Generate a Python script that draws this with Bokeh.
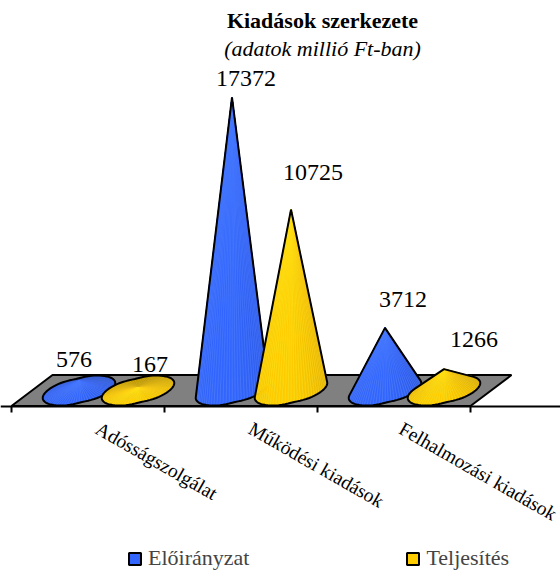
import numpy as np
from bokeh.plotting import figure
from bokeh.embed import file_html
from bokeh.resources import INLINE
from bokeh.models import Range1d, LinearAxis, FixedTicker, Label, Legend, LegendItem
from bokeh.core.properties import value

categories = ["Adósságszolgálat", "Működési kiadások", "Felhalmozási kiadások"]
series_names = ["Előirányzat", "Teljesítés"]
eloiranyzat = [576, 17372, 3712]
teljesites = [167, 10725, 1266]
title_main = "Kiadások szerkezete"
title_sub = "(adatok millió Ft-ban)"

# label offsets from the cone tip, in px (right, up)
label_off = {
    (0, 0): (-5, 21), (0, 1): (12, 23),
    (1, 0): (14, 19), (1, 1): (22, 37),
    (2, 0): (18, 28), (2, 1): (30, 30),
}

W, H = 560, 571
PX_PER_SLOT = 153.0
PX_PER_VAL = 0.01687
LEFT_PX, BASE_PX = 11.0, 390.0

def sx(px):
    return px / PX_PER_SLOT
def sy(px):
    return px / PX_PER_VAL

p = figure(width=W, height=H, output_backend="svg", toolbar_location=None,
           x_axis_type=None, y_axis_type=None,
           x_range=Range1d(sx(0 - LEFT_PX), sx(W - LEFT_PX)),
           y_range=Range1d(sy(BASE_PX - H), sy(BASE_PX)),
           min_border=0, min_border_left=0, min_border_right=0,
           min_border_top=0, min_border_bottom=0, outline_line_color=None,
           background_fill_color="white", border_fill_color="white")
p.grid.visible = False

FRONT, BACK, SHEAR = -15.5, 15.5, 41.0
n = len(categories)
floor_x = [0, n, n + sx(SHEAR), sx(SHEAR)]
floor_y = [sy(FRONT), sy(FRONT), sy(BACK), sy(BACK)]
p.patch(floor_x, floor_y, fill_color="#808080", line_color="black", line_width=2)

SERIES_OFF = [-29.5, 29.5]
COLORS = [np.array([51, 102, 255.0]), np.array([255, 204, 0.0])]
N = 72
ts = np.linspace(0, 2 * np.pi, N, endpoint=False)
R = 31.5
K = 15.0
# base: a sheared circle lying on the floor, with two shallow dents
rad = 1 - 0.06 * np.cos(ts - np.radians(125)) ** 24
ox = rad * (R * np.cos(ts) + 18.0 * np.sin(ts))
oy = rad * K * np.sin(ts)

handles = []
for c in range(n):
    for s, vals in enumerate([eloiranyzat, teljesites]):
        v = vals[c]
        cx = c + 0.5 + sx(SHEAR / 2) + sx(SERIES_OFF[s])
        bx, by = cx + sx(ox), sy(oy)
        order = np.argsort(-oy)
        xs, ys, cols, lines = [], [], [], []
        for i in order:
            j = (i + 1) % N
            xs.append([cx, bx[i], bx[j]])
            ys.append([v, by[i], by[j]])
            f = 0.87 + 0.13 * np.cos(ts[i] + 1.4)
            col = COLORS[s] * f
            cols.append("#%02x%02x%02x" % tuple(int(min(255, a)) for a in col))
            lines.append("#%02x%02x%02x" % tuple(int(min(255, a + 22)) for a in col))
        p.patches(xs, ys, fill_color=cols, line_color=lines, line_width=0.6)
        # silhouette
        dxp = (bx - cx) * PX_PER_SLOT
        dyp = (by - v) * PX_PER_VAL
        ang = np.arctan2(dxp, -dyp)  # 0 is straight down from the tip
        if v * PX_PER_VAL > K * 0.95:
            il, ir = int(np.argmin(ang)), int(np.argmax(ang))
            idx = []
            i = ir
            while True:
                idx.append(i)
                if i == il:
                    break
                i = (i + 1) % N
            if np.mean(oy[idx]) > 0:
                idx = []
                i = ir
                while True:
                    idx.append(i)
                    if i == il:
                        break
                    i = (i - 1) % N
            ox_line = [cx] + list(bx[idx]) + [cx]
            oy_line = [v] + list(by[idx]) + [v]
        else:
            ox_line = list(bx) + [bx[0]]
            oy_line = list(by) + [by[0]]
        p.patch(ox_line, oy_line, fill_color=None, line_color="black", line_width=2)
        if c == 0:
            handles.append(p.quad(left=[np.nan], right=[np.nan], top=[np.nan], bottom=[np.nan],
                                  fill_color="#%02x%02x%02x" % tuple(int(a) for a in COLORS[s]),
                                  line_color="black", line_width=2))

# data labels
lx, ly, lt = [], [], []
for c in range(n):
    for s, vals in enumerate([eloiranyzat, teljesites]):
        cx = c + 0.5 + sx(SHEAR / 2) + sx(SERIES_OFF[s])
        off = label_off[(c, s)]
        lx.append(cx + sx(off[0]))
        ly.append(vals[c] + sy(off[1]))
        lt.append(str(vals[c]))
p.text(lx, ly, text=lt, text_font=value("Liberation Serif"), text_font_size="24px",
       text_align="center", text_baseline="middle", text_color="black")

# category axis: boundary ticks
ax = LinearAxis(ticker=FixedTicker(ticks=list(range(n + 1))), fixed_location=sy(FRONT),
                major_label_text_font_size="0px", major_tick_in=0, major_tick_out=6,
                minor_tick_line_color=None, axis_line_color="black", axis_line_width=2,
                major_tick_line_color="black", major_tick_line_width=2)
ax.major_label_overrides = {i: "" for i in range(n + 1)}
p.add_layout(ax, "below")
ax2 = LinearAxis(ticker=FixedTicker(ticks=[i + 0.56 for i in range(n)]), fixed_location=sy(FRONT),
                 major_tick_line_color=None, minor_tick_line_color=None, axis_line_color=None,
                 major_label_orientation=-0.52, major_label_standoff=15,
                 major_label_text_font="Liberation Serif", major_label_text_font_size="19.5px",
                 major_label_text_color="black")
ax2.major_label_overrides = {i + 0.56: categories[i] for i in range(n)}
p.add_layout(ax2, "below")

# titles
p.add_layout(Label(x=322, y=H - 20, x_units="screen", y_units="screen", text=title_main,
                   text_font="Liberation Serif", text_font_style="bold", text_font_size="22px",
                   text_align="center", text_baseline="middle", text_color="black"))
p.add_layout(Label(x=322, y=H - 48, x_units="screen", y_units="screen", text=title_sub,
                   text_font="Liberation Serif", text_font_style="italic", text_font_size="22px",
                   text_align="center", text_baseline="middle", text_color="black"))

legend = Legend(items=[LegendItem(label=series_names[i], renderers=[handles[i]]) for i in range(2)],
                orientation="horizontal", location=(127, 0), border_line_color=None,
                background_fill_alpha=0, label_text_font="Liberation Serif",
                label_text_font_size="22px", glyph_width=15, glyph_height=15,
                spacing=156, padding=0, margin=0, label_standoff=6)
p.add_layout(legend, "center")

open("out.html", "w").write(file_html(p, INLINE))
